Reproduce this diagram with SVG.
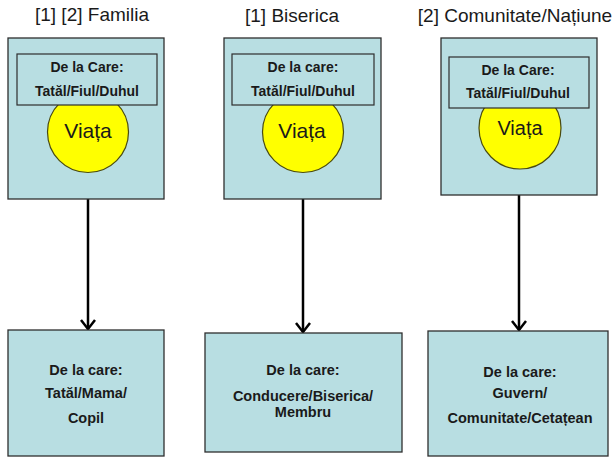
<svg xmlns="http://www.w3.org/2000/svg" width="614" height="458" viewBox="0 0 614 458">
<defs>
<style>
.box{fill:#b8dee2;stroke:#2e2e2e;stroke-width:1.3}
.inner{fill:#b8dee2;stroke:#2e2e2e;stroke-width:1.2}
.sun{fill:#ffff00;stroke:#4a4a10;stroke-width:1.2}
.title{font-family:"Liberation Sans",Arial,sans-serif;font-size:19px;fill:#1a1a1a;text-anchor:middle}
.lbl{font-family:"Liberation Sans",Arial,sans-serif;font-size:14px;font-weight:bold;fill:#1a1a1a;text-anchor:middle}
.blbl{font-family:"Liberation Sans",Arial,sans-serif;font-size:14.5px;font-weight:bold;fill:#1a1a1a;text-anchor:middle}
.viata{font-family:"Liberation Sans",Arial,sans-serif;font-size:21px;fill:#1a1a1a;text-anchor:middle}
.conn{stroke:#000;stroke-width:2.5;fill:none}
</style>
<marker id="arr" markerWidth="12" markerHeight="10" viewBox="0 0 12 10" refX="6" refY="9" orient="auto-start-reverse" markerUnits="userSpaceOnUse">
<path d="M1,2 L6,9 L11,2" fill="none" stroke="#000" stroke-width="2.5"/>
</marker>
</defs>
<rect width="614" height="458" fill="#ffffff"/>

<g id="titles">
<text class="title" x="92" y="21">[1] [2] Familia</text>
<text class="title" x="292" y="22">[1] Biserica</text>
<text class="title" x="515" y="22">[2] Comunitate/Națiune</text>
</g>

<g id="connectors">
<line class="conn" x1="88" y1="199" x2="88" y2="329"/>
<path class="conn" d="M81,320 L88,329 L95,320"/>
<line class="conn" x1="303" y1="199" x2="303" y2="332"/>
<path class="conn" d="M296,323 L303,332 L310,323"/>
<line class="conn" x1="519" y1="195" x2="519" y2="330"/>
<path class="conn" d="M512,321 L519,330 L526,321"/>
</g>

<g id="top-familia">
<rect class="box" x="8" y="38" width="156" height="161"/>
<circle class="sun" cx="88" cy="132" r="40.5"/>
<rect class="inner" x="17" y="54" width="140" height="51"/>
<text class="lbl" x="87" y="72">De la Care:</text>
<text class="lbl" x="87" y="96">Tatăl/Fiul/Duhul</text>
<text class="viata" x="88" y="138">Viața</text>
</g>

<g id="top-biserica">
<rect class="box" x="224" y="38" width="157" height="161"/>
<circle class="sun" cx="303" cy="132" r="40.5"/>
<rect class="inner" x="232" y="54" width="142" height="51"/>
<text class="lbl" x="303" y="72">De la care:</text>
<text class="lbl" x="303" y="96">Tatăl/Fiul/Duhul</text>
<text class="viata" x="302" y="138">Viața</text>
</g>

<g id="top-comunitate">
<rect class="box" x="441" y="38" width="156" height="157"/>
<circle class="sun" cx="520" cy="128" r="41"/>
<rect class="inner" x="449" y="57" width="140" height="51"/>
<text class="lbl" x="518" y="75">De la Care:</text>
<text class="lbl" x="518" y="98">Tatăl/Fiul/Duhul</text>
<text class="viata" x="520" y="135" style="font-size:20px">Viața</text>
</g>

<g id="bottom-familia">
<rect class="box" x="8" y="330" width="156" height="126"/>
<text class="blbl" x="86" y="375">De la care:</text>
<text class="blbl" x="86" y="398">Tatăl/Mama/</text>
<text class="blbl" x="86" y="423">Copil</text>
</g>

<g id="bottom-biserica">
<rect class="box" x="205" y="333" width="197" height="119"/>
<text class="blbl" x="303" y="375">De la care:</text>
<text class="blbl" x="303" y="401">Conducere/Biserica/</text>
<text class="blbl" x="303" y="417">Membru</text>
</g>

<g id="bottom-comunitate">
<rect class="box" x="428" y="331" width="180" height="125"/>
<text class="blbl" x="520" y="377">De la care:</text>
<text class="blbl" x="520" y="398">Guvern/</text>
<text class="blbl" x="520" y="423">Comunitate/Cetațean</text>
</g>
</svg>
